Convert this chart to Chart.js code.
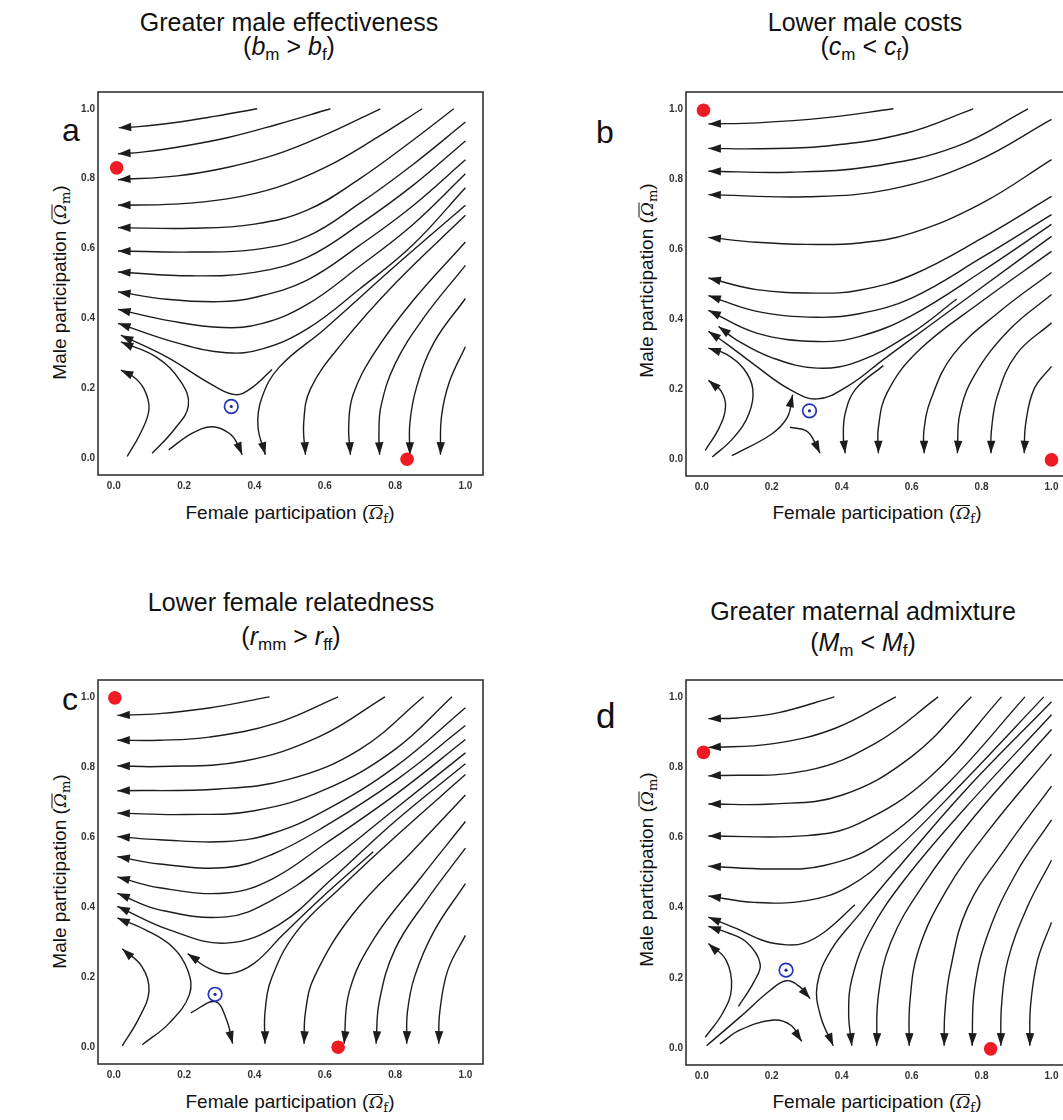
<!DOCTYPE html>
<html><head><meta charset="utf-8">
<script src="https://cdn.jsdelivr.net/npm/chart.js@4.4.1/dist/chart.umd.min.js"></script>
<style>
html,body{margin:0;padding:0;background:#fff;overflow:hidden;}
body{width:1063px;height:1120px;position:relative;font-family:"Liberation Sans",Arial,sans-serif;color:#111;}
.t{position:absolute;width:520px;text-align:center;font-size:25px;line-height:25px;white-space:nowrap;}
.t sub{font-size:17px;vertical-align:-5px;line-height:0;}
.lt{position:absolute;font-size:32px;line-height:32px;}
.xl{position:absolute;width:400px;text-align:center;font-size:19px;line-height:19px;white-space:nowrap;}
.yl{position:absolute;width:400px;height:19px;text-align:center;font-size:19px;line-height:19px;white-space:nowrap;transform:rotate(-90deg);}
.om{display:inline-block;font-family:"DejaVu Serif","Liberation Serif",serif;font-style:italic;font-size:17px;line-height:15px;border-top:1px solid #111;padding-left:1px;}
.os{font-family:"DejaVu Serif","Liberation Serif",serif;font-size:13px;vertical-align:-4px;line-height:0;}
.cv{position:absolute;}
</style></head><body>

<div class="t" style="left:29px;top:10px;">Greater male effectiveness</div>
<div class="t" style="left:29px;top:34px;">(<i>b</i><sub>m</sub> &gt; <i>b</i><sub>f</sub>)</div>
<div class="t" style="left:605px;top:10px;">Lower male costs</div>
<div class="t" style="left:605px;top:34px;">(<i>c</i><sub>m</sub> &lt; <i>c</i><sub>f</sub>)</div>
<div class="t" style="left:31px;top:590px;">Lower female relatedness</div>
<div class="t" style="left:31px;top:624px;">(<i>r</i><sub>mm</sub> &gt; <i>r</i><sub>ff</sub>)</div>
<div class="t" style="left:603px;top:599px;">Greater maternal admixture</div>
<div class="t" style="left:603px;top:630px;">(<i>M</i><sub>m</sub> &lt; <i>M</i><sub>f</sub>)</div>

<div class="lt" style="left:62px;top:114px;">a</div>
<div class="lt" style="left:596px;top:116px;">b</div>
<div class="lt" style="left:62px;top:683px;">c</div>
<div class="lt" style="left:596px;top:698px;font-size:35px;line-height:35px;">d</div>

<div class="yl" style="left:-141px;top:273px;">Male participation (<span class="om">Ω</span><span class="os">m</span>)</div>
<div class="yl" style="left:446px;top:271px;">Male participation (<span class="om">Ω</span><span class="os">m</span>)</div>
<div class="yl" style="left:-141px;top:862px;">Male participation (<span class="om">Ω</span><span class="os">m</span>)</div>
<div class="yl" style="left:446px;top:860px;">Male participation (<span class="om">Ω</span><span class="os">m</span>)</div>

<div class="xl" style="left:90px;top:503px;">Female participation (<span class="om">Ω</span><span class="os">f</span>)</div>
<div class="xl" style="left:677px;top:503px;">Female participation (<span class="om">Ω</span><span class="os">f</span>)</div>
<div class="xl" style="left:90px;top:1092px;">Female participation (<span class="om">Ω</span><span class="os">f</span>)</div>
<div class="xl" style="left:677px;top:1092px;">Female participation (<span class="om">Ω</span><span class="os">f</span>)</div>

<canvas id="ca" class="cv" width="445" height="413" style="left:48px;top:82px;"></canvas>
<canvas id="cb" class="cv" width="443" height="414" style="left:636px;top:82px;"></canvas>
<canvas id="cc" class="cv" width="445" height="414" style="left:48px;top:670px;"></canvas>
<canvas id="cd" class="cv" width="443" height="415" style="left:636px;top:670px;"></canvas>

<script>
const TICKS = [0.0, 0.2, 0.4, 0.6, 0.8, 1.0];

// Panel a: greater male effectiveness
const aLines = [
  [[0.408,1.0],[0.29,0.979],[0.17,0.96],[0.07,0.949],[0.014,0.946]],
  [[0.616,1.0],[0.464,0.955],[0.322,0.917],[0.18,0.89],[0.08,0.876],[0.012,0.871]],
  [[0.758,1.0],[0.607,0.928],[0.464,0.87],[0.322,0.832],[0.18,0.808],[0.012,0.797]],
  [[0.877,1.0],[0.749,0.918],[0.607,0.835],[0.464,0.775],[0.322,0.742],[0.17,0.727],[0.012,0.724]],
  [[0.967,1.0],[0.844,0.905],[0.70,0.8],[0.55,0.71],[0.40,0.67],[0.22,0.658],[0.012,0.66]],
  [[1.0,0.962],[0.85,0.84],[0.70,0.73],[0.55,0.635],[0.40,0.597],[0.22,0.59],[0.012,0.593]],
  [[1.0,0.908],[0.85,0.78],[0.70,0.67],[0.55,0.575],[0.40,0.532],[0.22,0.522],[0.012,0.533]],
  [[1.0,0.854],[0.85,0.722],[0.70,0.61],[0.55,0.51],[0.40,0.46],[0.30,0.448],[0.15,0.455],[0.012,0.476]],
  [[1.0,0.814],[0.85,0.668],[0.70,0.55],[0.55,0.44],[0.42,0.385],[0.31,0.374],[0.16,0.393],[0.012,0.426]],
  [[1.0,0.774],[0.85,0.61],[0.70,0.485],[0.55,0.37],[0.42,0.312],[0.32,0.302],[0.18,0.33],[0.012,0.386]],
  [[0.45,0.254],[0.39,0.2],[0.345,0.182],[0.28,0.21],[0.15,0.29],[0.02,0.352]],
  [[0.109,0.014],[0.17,0.08],[0.212,0.15],[0.19,0.22],[0.12,0.29],[0.02,0.333]],
  [[0.038,0.005],[0.075,0.07],[0.1,0.14],[0.085,0.2],[0.05,0.238],[0.02,0.252]],
  [[0.156,0.024],[0.22,0.07],[0.28,0.09],[0.33,0.07],[0.355,0.035],[0.365,0.01]],
  [[1.0,0.724],[0.8,0.55],[0.6,0.37],[0.47,0.26],[0.42,0.17],[0.41,0.09],[0.431,0.01]],
  [[1.0,0.695],[0.8,0.5],[0.65,0.33],[0.56,0.2],[0.54,0.1],[0.545,0.01]],
  [[1.0,0.619],[0.85,0.45],[0.74,0.3],[0.68,0.18],[0.668,0.09],[0.673,0.01]],
  [[1.0,0.552],[0.88,0.4],[0.8,0.27],[0.76,0.15],[0.754,0.07],[0.756,0.01]],
  [[1.0,0.457],[0.91,0.33],[0.86,0.2],[0.842,0.1],[0.842,0.01]],
  [[1.0,0.319],[0.955,0.22],[0.932,0.12],[0.929,0.01]]
];
const aStable = [[0.008,0.831],[0.834,-0.003]];
const aSaddle = [[0.334,0.148]];

// Panel b: lower male costs
const bLines = [
  [[0.548,1.0],[0.35,0.974],[0.16,0.96],[0.019,0.957]],
  [[0.776,1.0],[0.586,0.931],[0.348,0.893],[0.157,0.886],[0.019,0.887]],
  [[0.933,1.0],[0.729,0.893],[0.49,0.836],[0.252,0.819],[0.019,0.822]],
  [[1.0,0.97],[0.776,0.846],[0.538,0.77],[0.3,0.749],[0.019,0.755]],
  [[1.0,0.855],[0.8,0.73],[0.6,0.645],[0.45,0.617],[0.3,0.613],[0.157,0.619],[0.019,0.633]],
  [[1.0,0.75],[0.8,0.63],[0.6,0.525],[0.45,0.482],[0.33,0.474],[0.157,0.484],[0.019,0.517]],
  [[1.0,0.698],[0.8,0.575],[0.6,0.46],[0.45,0.415],[0.33,0.405],[0.157,0.422],[0.019,0.467]],
  [[1.0,0.67],[0.8,0.535],[0.6,0.41],[0.45,0.35],[0.33,0.336],[0.157,0.36],[0.019,0.425]],
  [[1.0,0.636],[0.8,0.49],[0.65,0.38],[0.52,0.285],[0.42,0.21],[0.33,0.172],[0.25,0.2],[0.15,0.27],[0.07,0.33],[0.019,0.365]],
  [[0.729,0.457],[0.6,0.36],[0.45,0.28],[0.33,0.26],[0.2,0.29],[0.1,0.34],[0.048,0.379]],
  [[0.01,0.025],[0.05,0.09],[0.068,0.15],[0.055,0.195],[0.019,0.225]],
  [[0.03,0.006],[0.09,0.06],[0.135,0.13],[0.146,0.2],[0.12,0.258],[0.07,0.3],[0.019,0.317]],
  [[0.086,0.01],[0.2,0.072],[0.245,0.12],[0.26,0.184]],
  [[0.252,0.091],[0.3,0.08],[0.325,0.045],[0.338,0.017]],
  [[0.519,0.267],[0.44,0.2],[0.41,0.13],[0.405,0.06],[0.41,0.017]],
  [[1.0,0.593],[0.8,0.45],[0.62,0.31],[0.53,0.19],[0.505,0.09],[0.505,0.017]],
  [[1.0,0.533],[0.85,0.42],[0.72,0.3],[0.655,0.17],[0.635,0.08],[0.636,0.017]],
  [[1.0,0.47],[0.88,0.37],[0.78,0.24],[0.738,0.13],[0.731,0.017]],
  [[1.0,0.389],[0.9,0.3],[0.845,0.18],[0.828,0.08],[0.827,0.017]],
  [[1.0,0.265],[0.95,0.2],[0.926,0.1],[0.922,0.017]]
];
const bStable = [[0.005,0.996],[1.0,-0.002]];
const bSaddle = [[0.308,0.138]];

// Panel c: lower female relatedness
const cLines = [
  [[0.443,1.0],[0.271,0.968],[0.129,0.952],[0.01,0.947]],
  [[0.638,1.0],[0.462,0.925],[0.271,0.885],[0.129,0.876],[0.01,0.876]],
  [[0.771,1.0],[0.586,0.887],[0.367,0.816],[0.129,0.801],[0.01,0.803]],
  [[0.881,1.0],[0.7,0.85],[0.5,0.765],[0.3,0.737],[0.01,0.732]],
  [[0.962,1.0],[0.8,0.85],[0.6,0.735],[0.4,0.675],[0.2,0.664],[0.01,0.668]],
  [[1.0,0.969],[0.8,0.8],[0.6,0.675],[0.45,0.61],[0.32,0.587],[0.13,0.592],[0.01,0.601]],
  [[1.0,0.918],[0.8,0.76],[0.6,0.63],[0.45,0.55],[0.32,0.513],[0.13,0.523],[0.01,0.544]],
  [[1.0,0.878],[0.8,0.72],[0.6,0.58],[0.45,0.48],[0.32,0.44],[0.13,0.455],[0.01,0.486]],
  [[1.0,0.84],[0.8,0.68],[0.6,0.52],[0.45,0.42],[0.32,0.372],[0.13,0.392],[0.01,0.439]],
  [[1.0,0.809],[0.8,0.645],[0.62,0.48],[0.47,0.35],[0.32,0.297],[0.16,0.334],[0.01,0.402]],
  [[0.738,0.558],[0.6,0.435],[0.48,0.32],[0.4,0.24],[0.33,0.21],[0.27,0.225],[0.21,0.267]],
  [[0.024,0.004],[0.07,0.08],[0.1,0.16],[0.08,0.23],[0.024,0.281]],
  [[0.081,0.007],[0.157,0.068],[0.215,0.15],[0.21,0.22],[0.167,0.286],[0.09,0.335],[0.01,0.369]],
  [[0.219,0.098],[0.288,0.13],[0.32,0.08],[0.338,0.01]],
  [[1.0,0.778],[0.8,0.6],[0.65,0.46],[0.52,0.33],[0.45,0.2],[0.43,0.1],[0.43,0.01]],
  [[1.0,0.72],[0.85,0.56],[0.68,0.38],[0.57,0.2],[0.545,0.1],[0.541,0.01]],
  [[1.0,0.644],[0.87,0.48],[0.74,0.31],[0.67,0.16],[0.655,0.01]],
  [[1.0,0.568],[0.89,0.42],[0.8,0.28],[0.755,0.13],[0.746,0.01]],
  [[1.0,0.467],[0.91,0.33],[0.855,0.2],[0.835,0.1],[0.833,0.01]],
  [[1.0,0.319],[0.95,0.22],[0.927,0.1],[0.924,0.01]]
];
const cStable = [[0.003,0.997],[0.638,0.0]];
const cSaddle = [[0.288,0.151]];

// Panel d: greater maternal admixture
const dLines = [
  [[0.379,1.0],[0.22,0.955],[0.1,0.94],[0.019,0.938]],
  [[0.555,1.0],[0.38,0.91],[0.2,0.866],[0.019,0.856]],
  [[0.676,1.0],[0.5,0.87],[0.3,0.79],[0.019,0.775]],
  [[0.771,1.0],[0.6,0.83],[0.4,0.72],[0.2,0.695],[0.019,0.695]],
  [[0.857,1.0],[0.65,0.77],[0.45,0.64],[0.3,0.605],[0.019,0.604]],
  [[0.924,1.0],[0.7,0.75],[0.5,0.58],[0.35,0.52],[0.2,0.51],[0.019,0.518]],
  [[0.978,1.0],[0.75,0.76],[0.55,0.56],[0.42,0.46],[0.3,0.42],[0.15,0.415],[0.019,0.433]],
  [[0.438,0.408],[0.35,0.33],[0.29,0.298],[0.243,0.294],[0.18,0.305],[0.1,0.34],[0.019,0.373]],
  [[0.105,0.119],[0.15,0.19],[0.167,0.24],[0.13,0.3],[0.07,0.33],[0.019,0.347]],
  [[0.01,0.031],[0.06,0.1],[0.085,0.17],[0.07,0.25],[0.019,0.298]],
  [[0.014,0.007],[0.11,0.089],[0.195,0.164],[0.241,0.192],[0.28,0.175],[0.31,0.141]],
  [[0.052,0.012],[0.11,0.052],[0.205,0.08],[0.255,0.065],[0.286,0.019]],
  [[1.0,0.986],[0.75,0.73],[0.55,0.5],[0.45,0.38],[0.37,0.28],[0.33,0.18],[0.34,0.09],[0.376,0.007]],
  [[1.0,0.949],[0.75,0.68],[0.58,0.48],[0.48,0.33],[0.43,0.2],[0.42,0.1],[0.429,0.007]],
  [[1.0,0.907],[0.78,0.66],[0.63,0.46],[0.54,0.3],[0.505,0.15],[0.5,0.007]],
  [[1.0,0.837],[0.82,0.62],[0.7,0.45],[0.62,0.28],[0.595,0.13],[0.593,0.007]],
  [[1.0,0.746],[0.87,0.57],[0.76,0.4],[0.71,0.22],[0.695,0.1],[0.693,0.007]],
  [[1.0,0.65],[0.9,0.5],[0.82,0.33],[0.78,0.17],[0.773,0.007]],
  [[1.0,0.535],[0.93,0.4],[0.875,0.25],[0.857,0.12],[0.855,0.007]],
  [[1.0,0.358],[0.96,0.25],[0.94,0.12],[0.938,0.007]]
];
const dStable = [[0.005,0.842],[0.826,-0.002]];
const dSaddle = [[0.241,0.222]];

const LINE_COLOR = '#1c1c1c';
const arrowPlugin = {
  id: 'arrows',
  afterDatasetDraw(chart, args) {
    const ds = chart.data.datasets[args.index];
    if (!ds.arrow) return;
    const pts = args.meta.data, n = pts.length;
    const p = pts[n-1];
    let qx = p.cp1x, qy = p.cp1y;
    if (qx === undefined || Math.hypot(p.x-qx, p.y-qy) < 1) { qx = pts[n-2].x; qy = pts[n-2].y; }
    const ang = Math.atan2(p.y-qy, p.x-qx);
    const ctx = chart.ctx;
    ctx.save();
    ctx.translate(p.x, p.y);
    ctx.rotate(ang);
    ctx.beginPath();
    ctx.moveTo(0, 0);
    ctx.lineTo(-12.5, -4.2);
    ctx.lineTo(-12.5, 4.2);
    ctx.closePath();
    ctx.fillStyle = LINE_COLOR;
    ctx.fill();
    ctx.restore();
  }
};
const framePlugin = {
  id: 'frame',
  afterDraw(chart) {
    const a = chart.chartArea, ctx = chart.ctx;
    ctx.save();
    ctx.strokeStyle = '#333';
    ctx.lineWidth = 1.6;
    ctx.strokeRect(a.left, a.top, a.right - a.left, a.bottom - a.top);
    ctx.restore();
  }
};

function axis(min, max, isY) {
  return {
    type: 'linear', min: min, max: max,
    grid: { display: false, drawTicks: false },
    border: { display: false },
    ticks: {
      autoSkip: false, maxRotation: 0, padding: isY ? 3 : 5,
      color: '#333', font: { family: 'Liberation Sans', size: 10, weight: 'bold' },
      callback: v => Number(v).toFixed(1)
    },
    afterBuildTicks: ax => { ax.ticks = TICKS.map(v => ({ value: v })); },
    afterFit: ax => { if (isY) ax.width = 50; else ax.height = 20; }
  };
}

function makeChart(id, lines, stable, saddle) {
  const toXY = arr => arr.map(p => ({ x: p[0], y: p[1] }));
  const datasets = lines.map(l => ({
    data: toXY(l), showLine: true, arrow: true, order: 2,
    borderColor: LINE_COLOR, borderWidth: 1.4, tension: 0.4,
    pointRadius: 0, pointHoverRadius: 0, fill: false
  }));
  datasets.push({ data: toXY(stable), order: 1, showLine: false, pointRadius: 6.8,
    pointBackgroundColor: '#ee1b24', pointBorderWidth: 0 });
  datasets.push({ data: toXY(saddle), order: 0, showLine: false, pointRadius: 6.8,
    pointBackgroundColor: 'rgba(255,255,255,0)', pointBorderColor: '#2432b8', pointBorderWidth: 1.7 });
  datasets.push({ data: toXY(saddle), order: 0, showLine: false, pointRadius: 1.6,
    pointBackgroundColor: '#1c2690', pointBorderWidth: 0 });
  new Chart(document.getElementById(id), {
    type: 'scatter',
    data: { datasets },
    options: {
      responsive: false, animation: false, events: [],
      layout: { padding: { top: 10, right: 10, left: 0, bottom: 0 } },
      plugins: { legend: { display: false }, tooltip: { enabled: false } },
      scales: { x: axis(-0.045, 1.05, false), y: axis(-0.048, 1.048, true) }
    },
    plugins: [arrowPlugin, framePlugin]
  });
}

makeChart('ca', aLines, aStable, aSaddle);
makeChart('cb', bLines, bStable, bSaddle);
makeChart('cc', cLines, cStable, cSaddle);
makeChart('cd', dLines, dStable, dSaddle);
</script>
</body></html>
